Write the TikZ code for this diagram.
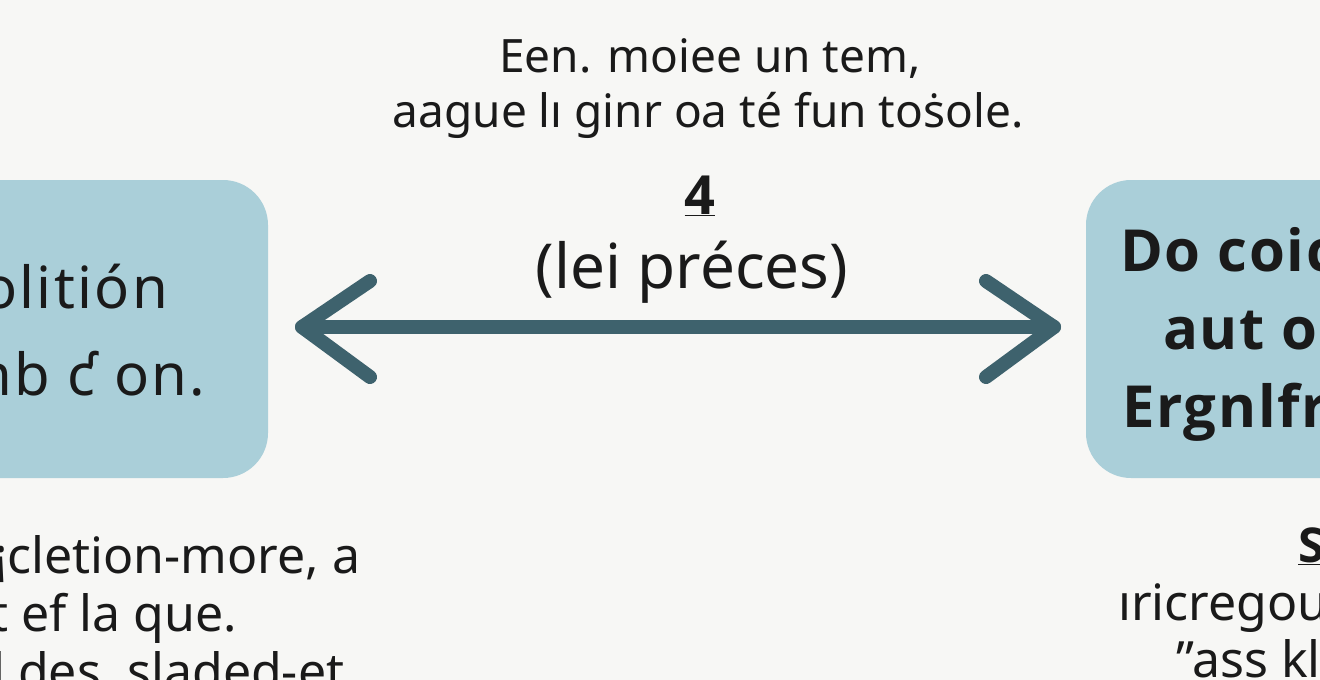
\documentclass[tikz,border=0pt]{standalone}
\usepackage{fontspec}
\setmainfont{Noto Sans}
\newfontfamily\bfont{Open Sans}
\usetikzlibrary{calc}
\definecolor{bgc}{HTML}{F7F7F5}
\definecolor{boxc}{HTML}{AACFD9}
\definecolor{arrc}{HTML}{3E626D}
\definecolor{txtc}{HTML}{1A1A1A}
\tikzset{
  panel/.style={fill=boxc, draw=none, rounded corners=45pt, inner sep=0pt},
  arrowline/.style={draw=arrc, line width=14pt, line cap=round, line join=round},
  toptxt/.style={font=\fontsize{46}{52}\selectfont, text=txtc, inner sep=0pt, anchor=base},
  midtxt/.style={font=\fontsize{62}{68}\selectfont, text=txtc, inner sep=0pt, anchor=base},
  numtxt/.style={font=\bfont\bfseries\fontsize{54}{60}\selectfont, text=txtc, inner sep=0pt, anchor=base},
  boxtxt/.style={font=\addfontfeature{LetterSpace=4}\fontsize{58}{64}\selectfont, text=txtc, inner sep=0pt, anchor=base west},
  boxtxtb/.style={font=\bfont\bfseries\addfontfeature{LetterSpace=3}\fontsize{58}{64}\selectfont, text=txtc, inner sep=0pt, anchor=base west},
  lowtxt/.style={font=\fontsize{50}{56}\selectfont, text=txtc, inner sep=0pt, anchor=base west},
}
\begin{document}
\begin{tikzpicture}[x=1pt,y=-1pt]
\useasboundingbox (0,0) rectangle (1320,680);
\clip (0,0) rectangle (1320,680);
\fill[bgc] (0,0) rectangle (1320,680);
% boxes
\node[panel, minimum width=328pt, minimum height=298pt] (lbox) at (104,329) {};
\node[panel, minimum width=314pt, minimum height=298pt] (rbox) at (1243,329) {};
% box texts
\node[boxtxt] (l1) at (-18,308) {olitión};
\node[boxtxt] (l2) at (-24,395) {nb ƈ on.};
\node[boxtxtb] (r1) at (1120,271) {Do coic};
\node[boxtxtb] (r2) at (1163,349) {aut ol};
\node[boxtxtb] (r3) at (1122,427) {Ergnlfr};
% arrow
\coordinate (al) at (302,327);
\coordinate (ar) at (1054,327);
\draw[arrowline] (al) -- (ar);
\draw[arrowline] ($(al)+(68,-46)$) -- (al) -- ($(al)+(68,50)$);
\draw[arrowline] ($(ar)+(-68,-46)$) -- (ar) -- ($(ar)+(-68,50)$);
% top texts
\node[toptxt] (t1) at (710,72) {Een. moiee un tem,};
\node[toptxt] (t2) at (708,127) {aague lı ginr oa té fun toṡole.};
\node[numtxt] (n4) at (700,214) {\underline{4}};
\node[midtxt] (t3) at (692,288) {(lei préces)};
% lower left
\node[lowtxt] (b1) at (-6,573) {¡cletion-more, a};
\node[lowtxt] (b2) at (-10,631) {t ef la que.};
\node[lowtxt] (b3) at (-8,689) {l des, sladed-et};
% lower right
\node[lowtxt, font=\bfont\bfseries\fontsize{48}{54}\selectfont] (s1) at (1298,562) {\underline{S}};
\node[lowtxt] (c1) at (1118,620) {ıricregou};
\node[lowtxt] (c2) at (1176,677) {"ass kl};
\end{tikzpicture}
\end{document}
